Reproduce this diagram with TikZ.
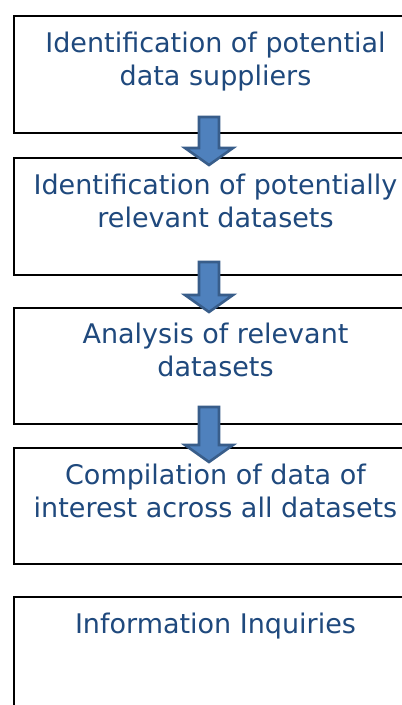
\documentclass[tikz,border=0pt]{standalone}
\usepackage{fontspec}
\setmainfont{DejaVu Sans}
\usetikzlibrary{calc}
\definecolor{txtblue}{HTML}{1F497D}
\definecolor{arrfill}{HTML}{4F81BD}
\definecolor{arrline}{HTML}{385D8A}
\tikzset{
  stepbox/.style={draw=black, line width=2pt, fill=white, rectangle, inner sep=0pt,
    minimum width=403pt, anchor=north west},
  steptext/.style={text=txtblue, align=center, inner sep=0pt, anchor=north,
    font=\fontsize{27}{32.5}\selectfont},
  blockarrow/.style={fill=arrfill, draw=arrline, line width=2.6pt, line join=miter}
}
\begin{document}
\begin{tikzpicture}[x=1pt,y=1pt]
\useasboundingbox (0,0) rectangle (402,-705);
\clip (0,0) rectangle (402,-705);
\node[stepbox, minimum height=117pt] (b1) at (13,-15) {};
\node[stepbox, minimum height=117pt] (b2) at (13,-157) {};
\node[stepbox, minimum height=116pt] (b3) at (13,-307) {};
\node[stepbox, minimum height=116pt] (b4) at (13,-447) {};
\node[stepbox, minimum height=130pt] (b5) at (13,-596) {};
\node[steptext] (t1) at ($(b1.north)+(0,-17)$) {Identification of potential\\data suppliers};
\node[steptext] (t2) at ($(b2.north)+(0,-17)$) {Identification of potentially\\relevant datasets};
\node[steptext] (t3) at ($(b3.north)+(0,-16)$) {Analysis of relevant\\datasets};
\node[steptext] (t4) at ($(b4.north)+(0,-17)$) {Compilation of data of\\interest across all datasets};
\node[steptext] (t5) at ($(b5.north)+(0,-17)$) {Information Inquiries};
% block arrows
\coordinate (a1) at (209,-117);
\coordinate (a2) at (209,-262);
\coordinate (a3) at (209,-407);
\draw[blockarrow] ($(a1)+(-10,0)$) -- ++(20,0) -- ++(0,-31) -- ++(14,0) -- ++(-24,-17) -- ++(-24,17) -- ++(14,0) -- cycle;
\draw[blockarrow] ($(a2)+(-10,0)$) -- ++(20,0) -- ++(0,-33) -- ++(14,0) -- ++(-24,-17) -- ++(-24,17) -- ++(14,0) -- cycle;
\draw[blockarrow] ($(a3)+(-10,0)$) -- ++(20,0) -- ++(0,-38) -- ++(14,0) -- ++(-24,-17) -- ++(-24,17) -- ++(14,0) -- cycle;
\end{tikzpicture}
\end{document}
